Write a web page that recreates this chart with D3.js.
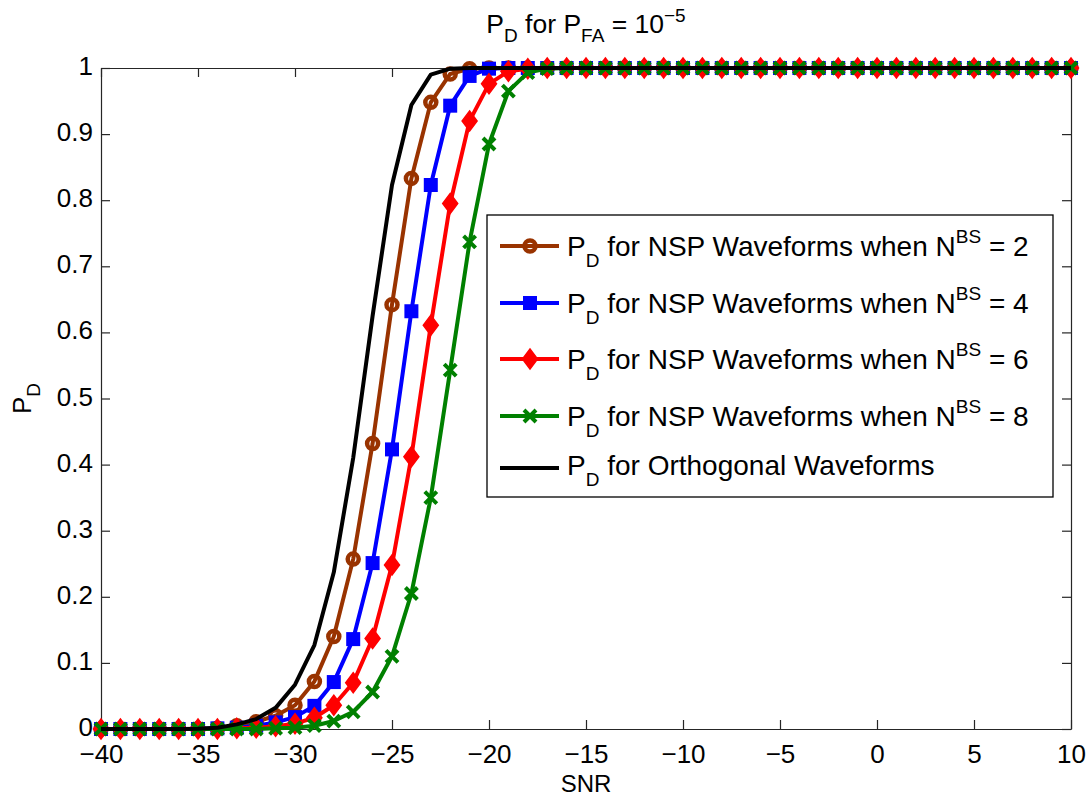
<!DOCTYPE html>
<html lang="en">
<head>
  <meta charset="UTF-8">
  <title>PD vs SNR</title>
  <script src="https://d3js.org/d3.v7.min.js"></script>
  <style>
    body {
      margin: 0;
      padding: 0;
      background: #fff;
    }
    svg {
      font-family: "Liberation Sans", Arial, Helvetica, sans-serif;
    }
    .axis path, .axis line {
      stroke: #262626;
      stroke-width: 1.2;
    }
    .axis text {
      font-size: 26px;
      fill: #000;
    }
  </style>
</head>
<body>
  <svg id="chart" width="1090" height="798"></svg>

  <script>
    // SNR points (dB)
    const snr = [-40, -39, -38, -37, -36, -35, -34, -33, -32, -31, -30, -29, -28, -27, -26, -25, -24, -23, -22, -21,
                 -20, -19, -18, -17, -16, -15, -14, -13, -12, -11, -10, -9, -8, -7, -6, -5, -4, -3, -2, -1,
                 0, 1, 2, 3, 4, 5, 6, 7, 8, 9, 10];

    // NSP, N^BS = 2
    const pdN2 = [0, 0, 0, 0, 0, 0.0005, 0.001, 0.005, 0.011, 0.02, 0.036, 0.072, 0.14, 0.257, 0.432, 0.642, 0.833, 0.948, 0.991, 0.999,
                  1, 1, 1, 1, 1, 1, 1, 1, 1, 1, 1, 1, 1, 1, 1, 1, 1, 1, 1, 1,
                  1, 1, 1, 1, 1, 1, 1, 1, 1, 1, 1];
    // NSP, N^BS = 4
    const pdN4 = [0, 0, 0, 0, 0, 0, 0.001, 0.002, 0.005, 0.01, 0.018, 0.035, 0.071, 0.136, 0.251, 0.423, 0.632, 0.823, 0.943, 0.988,
                  0.999, 1, 1, 1, 1, 1, 1, 1, 1, 1, 1, 1, 1, 1, 1, 1, 1, 1, 1, 1,
                  1, 1, 1, 1, 1, 1, 1, 1, 1, 1, 1];
    // NSP, N^BS = 6
    const pdN6 = [0, 0, 0, 0, 0, 0, 0, 0.001, 0.002, 0.004, 0.008, 0.017, 0.036, 0.07, 0.137, 0.248, 0.412, 0.611, 0.795, 0.92,
                  0.976, 0.995, 0.999, 1, 1, 1, 1, 1, 1, 1, 1, 1, 1, 1, 1, 1, 1, 1, 1, 1,
                  1, 1, 1, 1, 1, 1, 1, 1, 1, 1, 1];
    // NSP, N^BS = 8
    const pdN8 = [0, 0, 0, 0, 0, 0, 0, 0, 0, 0.001, 0.002, 0.005, 0.012, 0.026, 0.056, 0.11, 0.205, 0.35, 0.543, 0.737,
                  0.885, 0.965, 0.993, 0.999, 1, 1, 1, 1, 1, 1, 1, 1, 1, 1, 1, 1, 1, 1, 1, 1,
                  1, 1, 1, 1, 1, 1, 1, 1, 1, 1, 1];
    // orthogonal waveforms
    const pdOrth = [0, 0, 0, 0, 0, 0.0005, 0.002, 0.007, 0.015, 0.032, 0.067, 0.127, 0.237, 0.41, 0.625, 0.823, 0.944, 0.99, 0.999, 1,
                    1, 1, 1, 1, 1, 1, 1, 1, 1, 1, 1, 1, 1, 1, 1, 1, 1, 1, 1, 1,
                    1, 1, 1, 1, 1, 1, 1, 1, 1, 1, 1];

    const xTicks = [-40, -35, -30, -25, -20, -15, -10, -5, 0, 5, 10];
    const yTicks = [0, 0.1, 0.2, 0.3, 0.4, 0.5, 0.6, 0.7, 0.8, 0.9, 1];
    const yTickLabels = ["0", "0.1", "0.2", "0.3", "0.4", "0.5", "0.6", "0.7", "0.8", "0.9", "1"];

    const nbsValues = ["2", "4", "6", "8"];
    const seriesColors = ["#993300", "#0000ff", "#ff0000", "#008000"];
    const seriesMarkers = ["circle", "square", "diamond", "cross"];

    const width = 1090;
    const height = 798;
    const margin = { top: 68, right: 19, bottom: 69, left: 101 };

    const svg = d3.select("#chart");

    const x = d3.scaleLinear()
      .domain([-40, 10])
      .range([margin.left, width - margin.right]);

    const y = d3.scaleLinear()
      .domain([0, 1])
      .range([height - margin.bottom, margin.top]);

    // axes (ticks point inward, box on)
    svg.append("g")
      .attr("class", "axis")
      .attr("transform", `translate(0,${height - margin.bottom})`)
      .call(d3.axisBottom(x).tickValues(xTicks).tickSizeInner(-9).tickSizeOuter(0).tickPadding(16));

    svg.append("g")
      .attr("class", "axis")
      .attr("transform", `translate(0,${margin.top})`)
      .call(d3.axisTop(x).tickValues(xTicks).tickSizeInner(-9).tickSizeOuter(0).tickFormat(""));

    svg.append("g")
      .attr("class", "axis axis-left")
      .attr("transform", `translate(${margin.left},0)`)
      .call(d3.axisLeft(y).tickValues(yTicks).tickSizeInner(-9).tickSizeOuter(0).tickPadding(8)
        .tickFormat((d, i) => yTickLabels[i]));

    svg.selectAll(".axis-left text").attr("dy", "0.25em");

    svg.append("g")
      .attr("class", "axis")
      .attr("transform", `translate(${width - margin.right},0)`)
      .call(d3.axisRight(y).tickValues(yTicks).tickSizeInner(-9).tickSizeOuter(0).tickFormat(""));

    svg.selectAll(".axis .domain").attr("stroke", "#262626");

    // markers
    function drawMarker(g, type, cx, cy, color) {
      if (type === "circle") {
        g.append("circle")
          .attr("cx", cx).attr("cy", cy).attr("r", 5.5)
          .attr("fill", "none").attr("stroke", color).attr("stroke-width", 4.5);
      } else if (type === "square") {
        g.append("rect")
          .attr("x", cx - 6).attr("y", cy - 6).attr("width", 12).attr("height", 12)
          .attr("fill", color).attr("stroke", color).attr("stroke-width", 2);
      } else if (type === "diamond") {
        g.append("path")
          .attr("d", `M${cx},${cy - 10}L${cx + 7.5},${cy}L${cx},${cy + 10}L${cx - 7.5},${cy}Z`)
          .attr("fill", color).attr("stroke", color).attr("stroke-width", 1.5);
      } else if (type === "cross") {
        g.append("path")
          .attr("d", `M${cx - 6},${cy - 6}L${cx + 6},${cy + 6}M${cx - 6},${cy + 6}L${cx + 6},${cy - 6}`)
          .attr("fill", "none").attr("stroke", color).attr("stroke-width", 4);
      }
    }

    const line = d3.line()
      .x((d, i) => x(snr[i]))
      .y(d => y(d));

    const nspSeries = [pdN2, pdN4, pdN6, pdN8];

    nspSeries.forEach(function(values, k) {
      const g = svg.append("g");
      g.append("path")
        .datum(values)
        .attr("d", line)
        .attr("fill", "none")
        .attr("stroke", seriesColors[k])
        .attr("stroke-width", 4)
        .attr("stroke-linejoin", "round");
      values.forEach(function(v, i) {
        drawMarker(g, seriesMarkers[k], x(snr[i]), y(v), seriesColors[k]);
      });
    });

    svg.append("path")
      .datum(pdOrth)
      .attr("d", line)
      .attr("fill", "none")
      .attr("stroke", "#000")
      .attr("stroke-width", 4)
      .attr("stroke-linejoin", "round");

    // title
    const title = svg.append("text")
      .attr("x", (margin.left + width - margin.right) / 2)
      .attr("y", 33)
      .attr("text-anchor", "middle")
      .attr("font-size", 26.5);
    title.append("tspan").text("P");
    title.append("tspan").attr("dy", 9).attr("font-size", 19).text("D");
    title.append("tspan").attr("dy", -9).text(" for P");
    title.append("tspan").attr("dy", 9).attr("font-size", 19).text("FA");
    title.append("tspan").attr("dy", -9).text(" = 10");
    title.append("tspan").attr("dy", -11).attr("font-size", 19).text("\u22125");

    // x label
    svg.append("text")
      .attr("x", (margin.left + width - margin.right) / 2)
      .attr("y", 792)
      .attr("text-anchor", "middle")
      .attr("font-size", 24)
      .text("SNR");

    // y label
    const ylab = svg.append("text")
      .attr("transform", `translate(31,${(margin.top + height - margin.bottom) / 2}) rotate(-90)`)
      .attr("text-anchor", "middle")
      .attr("font-size", 26);
    ylab.append("tspan").text("P");
    ylab.append("tspan").attr("dy", 9).attr("font-size", 19).text("D");

    // legend
    const legend = svg.append("g");
    legend.append("rect")
      .attr("x", 487).attr("y", 215)
      .attr("width", 566).attr("height", 282)
      .attr("fill", "#fff")
      .attr("stroke", "#000")
      .attr("stroke-width", 1.3);

    const rowY = [246, 303, 359, 416, 468];

    function legendText(ty) {
      const t = legend.append("text")
        .attr("x", 567).attr("y", ty)
        .attr("font-size", 28);
      t.append("tspan").text("P");
      t.append("tspan").attr("dy", 11).attr("font-size", 19).text("D");
      return t;
    }

    nbsValues.forEach(function(n, k) {
      const ry = rowY[k];
      legend.append("line")
        .attr("x1", 500).attr("x2", 559)
        .attr("y1", ry).attr("y2", ry)
        .attr("stroke", seriesColors[k]).attr("stroke-width", 4);
      drawMarker(legend, seriesMarkers[k], 530, ry, seriesColors[k]);
      const t = legendText(ry + 10);
      t.append("tspan").attr("dy", -11).text(" for NSP Waveforms when N");
      t.append("tspan").attr("dy", -13).attr("font-size", 19).text("BS");
      t.append("tspan").attr("dy", 13).text(" = " + n);
    });

    legend.append("line")
      .attr("x1", 500).attr("x2", 559)
      .attr("y1", rowY[4]).attr("y2", rowY[4])
      .attr("stroke", "#000").attr("stroke-width", 4);
    const t5 = legendText(rowY[4] + 7);
    t5.append("tspan").attr("dy", -11).text(" for Orthogonal Waveforms");
  </script>
</body>
</html>
